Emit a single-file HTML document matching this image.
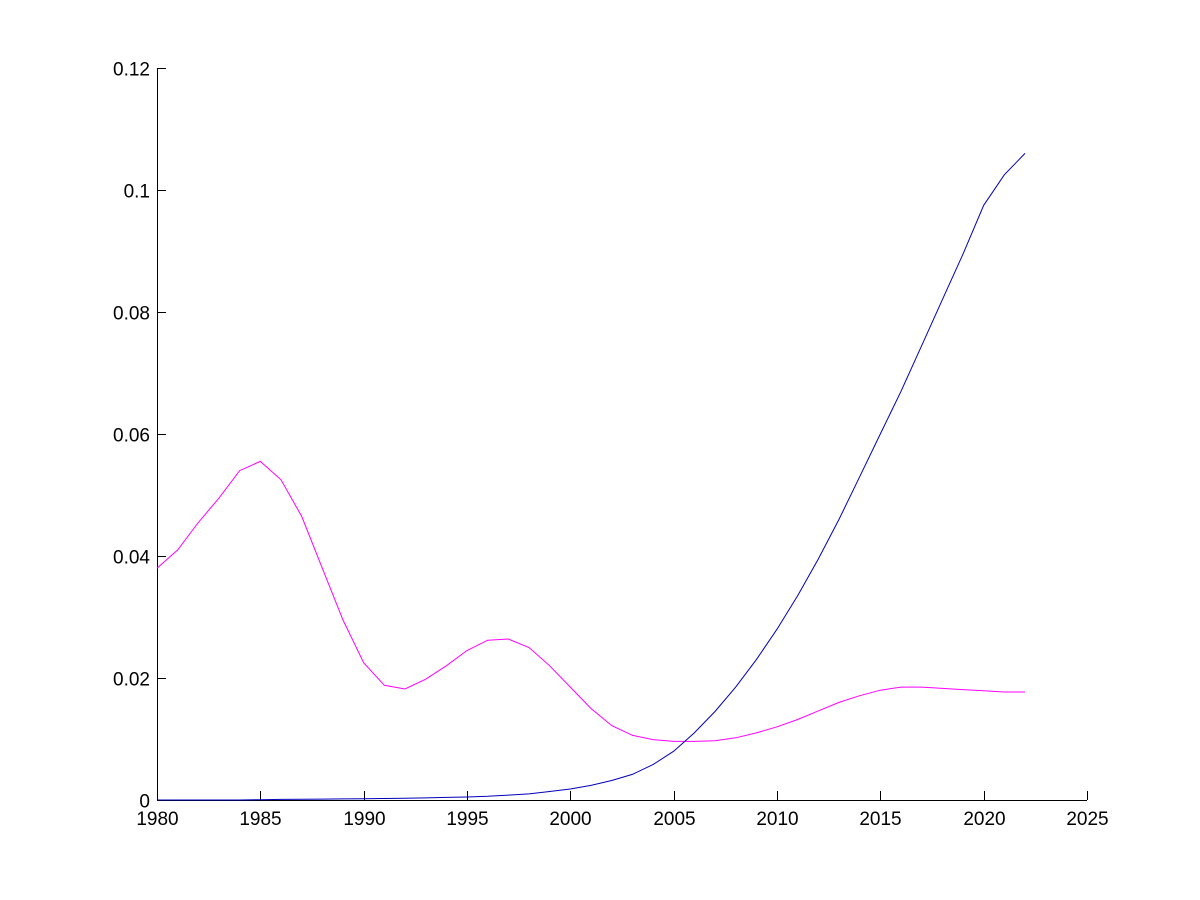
<!DOCTYPE html>
<html><head><meta charset="utf-8"><style>
html,body{margin:0;padding:0;background:#fff;width:1200px;height:900px;overflow:hidden}
text{font-family:"Liberation Sans",Arial,sans-serif;font-size:19px;fill:#000}
</style></head><body>
<svg id="s" width="1200" height="900" xmlns="http://www.w3.org/2000/svg">
<rect width="1200" height="900" fill="#fff"/>
<g id="ax" stroke="#000" stroke-width="1" fill="none"></g>
<g id="lb"></g>
<polyline id="m" fill="none" stroke="#ff00ff" stroke-width="1"/>
<polyline id="b" fill="none" stroke="#0000bb" stroke-width="1"/>
</svg>
<script>
var X=function(y){return 157+(y-1980)*930/45},Y=function(v){return 800-v*6100};
var ax=document.getElementById('ax'),lb=document.getElementById('lb'),h='',t='';
h+='<line x1="157.5" y1="68" x2="157.5" y2="800.5"/><line x1="157" y1="800.5" x2="1087" y2="800.5"/>';
var yl=['0','0.02','0.04','0.06','0.08','0.1','0.12'];
for(var i=0;i<=6;i++){var y=Math.round(Y(i*0.02))+0.5;h+='<line x1="157" y1="'+y+'" x2="166" y2="'+y+'"/>';
t+='<text x="150" y="'+(y+7)+'" text-anchor="end">'+yl[i]+'</text>';}
for(var yr=1980;yr<=2025;yr+=5){var x=Math.round(X(yr))+0.5;h+='<line x1="'+x+'" y1="800" x2="'+x+'" y2="791"/>';
t+='<text x="'+x+'" y="825" text-anchor="middle">'+yr+'</text>';}
ax.innerHTML=h;lb.innerHTML=t;
var m=[0.038,0.041,0.0455,0.0495,0.054,0.0555,0.0525,0.0465,0.038,0.0295,0.0225,0.0188,0.0182,0.0198,0.022,0.0245,0.0262,0.0264,0.025,0.022,0.0185,0.015,0.0122,0.0106,0.0099,0.0096,0.0096,0.0097,0.0102,0.011,0.012,0.0132,0.0146,0.016,0.0171,0.018,0.0185,0.0185,0.0183,0.0181,0.0179,0.0177,0.0177];
var b=[0,0,0,0,0,0.00005,0.0001,0.00012,0.00015,0.00018,0.0002,0.00025,0.0003,0.00035,0.00042,0.0005,0.0006,0.0008,0.001,0.0014,0.0018,0.0024,0.0032,0.0042,0.0058,0.008,0.011,0.0145,0.0185,0.023,0.028,0.0335,0.0395,0.046,0.053,0.06,0.067,0.0745,0.082,0.0895,0.0975,0.1025,0.106];
function pts(a){return a.map(function(v,i){return X(1980+i).toFixed(1)+','+Y(v).toFixed(1)}).join(' ')}
document.getElementById('m').setAttribute('points',pts(m));
document.getElementById('b').setAttribute('points',pts(b));
</script>
</body></html>
